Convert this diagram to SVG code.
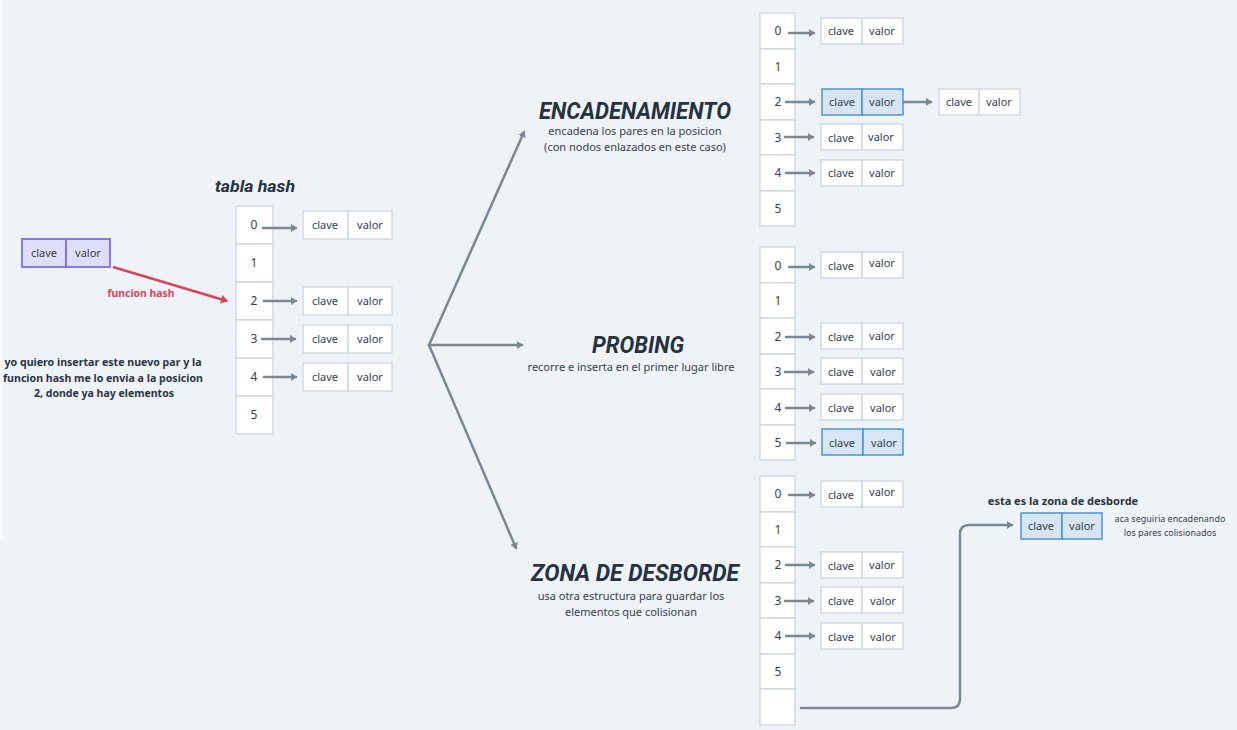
<svg xmlns="http://www.w3.org/2000/svg" width="1237" height="730" viewBox="0 0 1237 730">
<defs>
<style>
.bg{fill:#eff3f7}
.cell{fill:#ffffff;stroke:#c8d3de;stroke-width:1.2}
.hl{fill:#d6e6f6;stroke:#3d8fd9;stroke-width:1.4}
.pu{fill:#e0deff;stroke:#7b6cf0;stroke-width:1.8}
.t{font-family:"Noto Sans","DejaVu Sans",sans-serif;font-size:11px;fill:#36414e;text-anchor:middle}
.idx{font-family:"Noto Sans","DejaVu Sans",sans-serif;font-size:12px;fill:#36414e;text-anchor:middle}
.b{font-weight:bold;fill:#2a3542}
.title{font-family:"Roboto","Liberation Sans",sans-serif;font-weight:bold;font-style:italic;fill:#26323f;text-anchor:middle}
.conn{fill:none;stroke:#7a8795;stroke-width:2.5;stroke-linecap:round}
.red{fill:none;stroke:#d9435a;stroke-width:2.5}
</style>
<marker id="ah" markerWidth="8" markerHeight="8" refX="5" refY="4" orient="auto" markerUnits="userSpaceOnUse"><path d="M0,0 L6,4 L0,8 Z" fill="#7a8795"/></marker>
<marker id="ahr" markerWidth="9" markerHeight="9" refX="6" refY="4.5" orient="auto" markerUnits="userSpaceOnUse"><path d="M0,0 L7,4.5 L0,9 Z" fill="#d9435a"/></marker>
</defs>
<rect class="bg" x="0" y="0" width="1237" height="730"/>
<rect x="0" y="0" width="3" height="540" fill="#f6f8fa"/>

<g id="tabla-hash">
<text class="title" x="255" y="192" font-size="16" textLength="80" lengthAdjust="spacingAndGlyphs">tabla hash</text>
<rect class="cell" x="236" y="206" width="37" height="38"/>
<rect class="cell" x="236" y="244" width="37" height="38"/>
<rect class="cell" x="236" y="282" width="37" height="38"/>
<rect class="cell" x="236" y="320" width="37" height="38"/>
<rect class="cell" x="236" y="358" width="37" height="38"/>
<rect class="cell" x="236" y="396" width="37" height="38"/>
<text class="idx" x="254" y="229">0</text>
<text class="idx" x="254" y="267">1</text>
<text class="idx" x="254" y="305">2</text>
<text class="idx" x="254" y="343">3</text>
<text class="idx" x="254" y="381">4</text>
<text class="idx" x="254" y="419">5</text>
</g>
<g id="th-pares">
<rect class="cell" x="303" y="211" width="45" height="28"/><rect class="cell" x="348" y="211" width="44" height="28"/>
<text class="t" x="325" y="229">clave</text><text class="t" x="370" y="229">valor</text>
<rect class="cell" x="303" y="287" width="45" height="28"/><rect class="cell" x="348" y="287" width="44" height="28"/>
<text class="t" x="325" y="305">clave</text><text class="t" x="370" y="305">valor</text>
<rect class="cell" x="303" y="325" width="45" height="28"/><rect class="cell" x="348" y="325" width="44" height="28"/>
<text class="t" x="325" y="343">clave</text><text class="t" x="370" y="343">valor</text>
<rect class="cell" x="303" y="363" width="45" height="28"/><rect class="cell" x="348" y="363" width="44" height="28"/>
<text class="t" x="325" y="381">clave</text><text class="t" x="370" y="381">valor</text>
</g>

<g id="nuevo-par">
<rect class="pu" x="22" y="239" width="44" height="28"/><rect class="pu" x="66" y="239" width="44" height="28"/>
<text class="t" x="44" y="257">clave</text><text class="t" x="88" y="257">valor</text>
</g>
<g id="nota">
<text class="t b" x="141" y="297" style="fill:#d9435a" textLength="67" lengthAdjust="spacingAndGlyphs">funcion hash</text>
<text class="t b" x="103" y="366" textLength="197" lengthAdjust="spacingAndGlyphs">yo quiero insertar este nuevo par y la</text>
<text class="t b" x="103" y="382" textLength="200" lengthAdjust="spacingAndGlyphs">funcion hash me lo envia a la posicion</text>
<text class="t b" x="104" y="397" textLength="140" lengthAdjust="spacingAndGlyphs">2, donde ya hay elementos</text>
</g>

<g id="encadenamiento-titulo">
<text class="title" x="635" y="119" font-size="24" textLength="192" lengthAdjust="spacingAndGlyphs">ENCADENAMIENTO</text>
<text class="t" x="635" y="135">encadena los pares en la posicion</text>
<text class="t" x="635" y="151">(con nodos enlazados en este caso)</text>
</g>
<g id="probing-titulo">
<text class="title" x="638" y="353" font-size="24" textLength="92" lengthAdjust="spacingAndGlyphs">PROBING</text>
<text class="t" x="631" y="371">recorre e inserta en el primer lugar libre</text>
</g>
<g id="zona-titulo">
<text class="title" x="635" y="581" font-size="24" textLength="208" lengthAdjust="spacingAndGlyphs">ZONA DE DESBORDE</text>
<text class="t" x="631" y="600">usa otra estructura para guardar los</text>
<text class="t" x="631" y="616">elementos que colisionan</text>
</g>

<g id="tabla-encadenamiento">
<rect class="cell" x="760" y="13" width="35" height="36"/>
<rect class="cell" x="760" y="49" width="35" height="35"/>
<rect class="cell" x="760" y="84" width="35" height="36"/>
<rect class="cell" x="760" y="120" width="35" height="35"/>
<rect class="cell" x="760" y="155" width="35" height="36"/>
<rect class="cell" x="760" y="191" width="35" height="35"/>
<text class="idx" x="778" y="35">0</text>
<text class="idx" x="778" y="71">1</text>
<text class="idx" x="778" y="106">2</text>
<text class="idx" x="778" y="142">3</text>
<text class="idx" x="778" y="177">4</text>
<text class="idx" x="778" y="213">5</text>
<rect class="cell" x="821" y="18" width="41" height="26"/><rect class="cell" x="862" y="18" width="41" height="26"/>
<text class="t" x="841" y="35">clave</text><text class="t" x="882" y="35">valor</text>
<rect class="hl" x="822" y="89" width="40" height="26"/><rect class="hl" x="862" y="89" width="41" height="26"/>
<text class="t" x="842" y="106">clave</text><text class="t" x="882" y="106">valor</text>
<rect class="cell" x="939" y="89" width="40" height="26"/><rect class="cell" x="979" y="89" width="41" height="26"/>
<text class="t" x="959" y="106">clave</text><text class="t" x="999" y="106">valor</text>
<rect class="cell" x="821" y="124" width="41" height="26"/><rect class="cell" x="862" y="124" width="41" height="26"/>
<text class="t" x="841" y="142">clave</text><text class="t" x="881" y="141">valor</text>
<rect class="cell" x="821" y="160" width="41" height="26"/><rect class="cell" x="862" y="160" width="41" height="26"/>
<text class="t" x="841" y="177">clave</text><text class="t" x="882" y="177">valor</text>
</g>

<g id="tabla-probing">
<rect class="cell" x="760" y="247" width="35" height="36"/>
<rect class="cell" x="760" y="283" width="35" height="35"/>
<rect class="cell" x="760" y="318" width="35" height="36"/>
<rect class="cell" x="760" y="354" width="35" height="35"/>
<rect class="cell" x="760" y="389" width="35" height="36"/>
<rect class="cell" x="760" y="425" width="35" height="35"/>
<text class="idx" x="778" y="270">0</text>
<text class="idx" x="778" y="305">1</text>
<text class="idx" x="778" y="341">2</text>
<text class="idx" x="778" y="376">3</text>
<text class="idx" x="778" y="412">4</text>
<text class="idx" x="778" y="447">5</text>
<rect class="cell" x="821" y="252" width="41" height="26"/><rect class="cell" x="862" y="252" width="41" height="26"/>
<text class="t" x="841" y="270">clave</text><text class="t" x="882" y="267">valor</text>
<rect class="cell" x="821" y="323" width="41" height="26"/><rect class="cell" x="862" y="323" width="41" height="26"/>
<text class="t" x="841" y="341">clave</text><text class="t" x="882" y="340">valor</text>
<rect class="cell" x="821" y="358" width="41" height="26"/><rect class="cell" x="862" y="358" width="41" height="26"/>
<text class="t" x="841" y="376">clave</text><text class="t" x="883" y="376">valor</text>
<rect class="cell" x="821" y="394" width="41" height="26"/><rect class="cell" x="862" y="394" width="41" height="26"/>
<text class="t" x="841" y="412">clave</text><text class="t" x="883" y="412">valor</text>
<rect class="hl" x="822" y="429" width="41" height="26"/><rect class="hl" x="863" y="429" width="40" height="26"/>
<text class="t" x="842" y="447">clave</text><text class="t" x="884" y="447">valor</text>
</g>

<g id="tabla-desborde">
<rect class="cell" x="760" y="476" width="35" height="36"/>
<rect class="cell" x="760" y="512" width="35" height="35"/>
<rect class="cell" x="760" y="547" width="35" height="36"/>
<rect class="cell" x="760" y="583" width="35" height="35"/>
<rect class="cell" x="760" y="618" width="35" height="36"/>
<rect class="cell" x="760" y="654" width="35" height="35"/>
<rect class="cell" x="760" y="689" width="35" height="36"/>
<text class="idx" x="778" y="498">0</text>
<text class="idx" x="778" y="534">1</text>
<text class="idx" x="778" y="569">2</text>
<text class="idx" x="778" y="605">3</text>
<text class="idx" x="778" y="640">4</text>
<text class="idx" x="778" y="676">5</text>
<rect class="cell" x="821" y="481" width="41" height="26"/><rect class="cell" x="862" y="481" width="41" height="26"/>
<text class="t" x="841" y="499">clave</text><text class="t" x="882" y="496">valor</text>
<rect class="cell" x="821" y="552" width="41" height="26"/><rect class="cell" x="862" y="552" width="41" height="26"/>
<text class="t" x="841" y="570">clave</text><text class="t" x="882" y="569">valor</text>
<rect class="cell" x="821" y="587" width="41" height="26"/><rect class="cell" x="862" y="587" width="41" height="26"/>
<text class="t" x="841" y="605">clave</text><text class="t" x="883" y="605">valor</text>
<rect class="cell" x="821" y="623" width="41" height="26"/><rect class="cell" x="862" y="623" width="41" height="26"/>
<text class="t" x="841" y="641">clave</text><text class="t" x="883" y="641">valor</text>
</g>

<g id="zona-desborde">
<text class="t b" x="1063" y="505">esta es la zona de desborde</text>
<rect class="hl" x="1021" y="513" width="41" height="26"/><rect class="hl" x="1062" y="513" width="40" height="26"/>
<text class="t" x="1041" y="530">clave</text><text class="t" x="1082" y="530">valor</text>
<text class="t" x="1170" y="522" style="font-size:9px">aca seguiria encadenando</text>
<text class="t" x="1170" y="536" style="font-size:9px">los pares colisionados</text>
</g>

<g id="conectores">
<path class="red" d="M113,267 L227,301" marker-end="url(#ahr)"/>
<path class="conn" d="M263,228 L296,228" marker-end="url(#ah)"/>
<path class="conn" d="M264,301 L296,301" marker-end="url(#ah)"/>
<path class="conn" d="M262,339 L295,339" marker-end="url(#ah)"/>
<path class="conn" d="M264,377 L296,377" marker-end="url(#ah)"/>
<path class="conn" d="M429,345 L524,132" marker-end="url(#ah)"/>
<path class="conn" d="M429,345 L522,345" marker-end="url(#ah)"/>
<path class="conn" d="M429,345 L516,548" marker-end="url(#ah)"/>
<path class="conn" d="M789,33 L814,33" marker-end="url(#ah)"/>
<path class="conn" d="M786,102 L814,102" marker-end="url(#ah)"/>
<path class="conn" d="M904,102 L931,102" marker-end="url(#ah)"/>
<path class="conn" d="M785,137 L813,137" marker-end="url(#ah)"/>
<path class="conn" d="M786,173 L814,173" marker-end="url(#ah)"/>
<path class="conn" d="M789,267 L814,267" marker-end="url(#ah)"/>
<path class="conn" d="M786,337 L814,337" marker-end="url(#ah)"/>
<path class="conn" d="M785,372 L813,372" marker-end="url(#ah)"/>
<path class="conn" d="M786,408 L814,408" marker-end="url(#ah)"/>
<path class="conn" d="M787,443 L815,443" marker-end="url(#ah)"/>
<path class="conn" d="M789,495 L814,495" marker-end="url(#ah)"/>
<path class="conn" d="M786,565 L814,565" marker-end="url(#ah)"/>
<path class="conn" d="M785,601 L813,601" marker-end="url(#ah)"/>
<path class="conn" d="M786,636 L814,636" marker-end="url(#ah)"/>
<path class="conn" d="M801,708 L951,708 Q960,708 960,699 L960,534 Q960,525 969,525 L1012,525" marker-end="url(#ah)"/>
</g>
</svg>
